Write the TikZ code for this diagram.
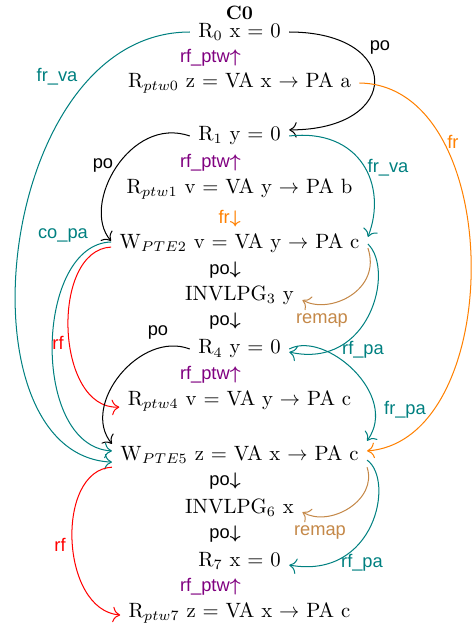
\documentclass[tikz,border=0pt]{standalone}
\usepackage{amsmath}
\usepackage{fontspec}
\newfontfamily\labfont{Liberation Sans}
\usetikzlibrary{arrows.meta}
\definecolor{mypurple}{RGB}{128,0,128}
\definecolor{mybrown}{RGB}{196,136,72}
\definecolor{myteal}{RGB}{0,128,128}
\definecolor{myorange}{RGB}{255,128,0}
\definecolor{myred}{RGB}{255,0,0}
\newcommand{\upar}{\ensuremath{\boldsymbol{\uparrow}}}
\newcommand{\dnar}{\ensuremath{\boldsymbol{\downarrow}}}
\begin{document}
\begin{tikzpicture}[x=0.4926pt,y=-0.4926pt,
  txt/.style={inner sep=4pt, font=\fontsize{10.2}{12}\selectfont},
  lab/.style={inner sep=1pt, font=\labfont\fontsize{9}{10}\selectfont},
  vlab/.style={lab, anchor=east},
  rel/.style={line width=0.5pt, -{To[scale=1.35]}},
  pocol/.style={rel, black},
  tealc/.style={rel, myteal},
  redc/.style={rel, myred},
  orc/.style={rel, myorange},
  brc/.style={rel, mybrown}]
\useasboundingbox (0,0) rectangle (474,628);

% title and event nodes
\node[inner sep=1pt, font=\fontsize{9.5}{11}\selectfont\bfseries] (C0) at (239.5,13) {C0};
\node[txt] (R0)  at (239.5,32)  {R$_0$ x = 0};
\node[txt] (Rp0) at (239.5,83)  {R$_{ptw0}$ z = VA x $\rightarrow$ PA a};
\node[txt] (R1)  at (239.5,136) {R$_1$ y = 0};
\node[txt] (Rp1) at (239.5,189) {R$_{ptw1}$ v = VA y $\rightarrow$ PA b};
\node[txt] (W2)  at (239.5,243) {W$_{PTE2}$ v = VA y $\rightarrow$ PA c};
\node[txt] (I3)  at (239.5,295) {INVLPG$_3$ y};
\node[txt] (R4)  at (239.5,349) {R$_4$ y = 0};
\node[txt] (Rp4) at (239.5,401) {R$_{ptw4}$ v = VA y $\rightarrow$ PA c};
\node[txt] (W5)  at (239.5,455) {W$_{PTE5}$ z = VA x $\rightarrow$ PA c};
\node[txt] (I6)  at (239.5,508) {INVLPG$_6$ x};
\node[txt] (R7)  at (239.5,561) {R$_7$ x = 0};
\node[txt] (Rp7) at (239.5,613) {R$_{ptw7}$ z = VA x $\rightarrow$ PA c};

% vertical relation labels
\node[vlab, mypurple] (v1) at (243,58)  {rf\_ptw\upar};
\node[vlab, mypurple] (v2) at (243,163) {rf\_ptw\upar};
\node[vlab, myorange] (v3) at (243,219) {fr\dnar};
\node[vlab, black]    (v4) at (243,270) {po\dnar};
\node[vlab, black]    (v5) at (243,321) {po\dnar};
\node[vlab, mypurple] (v6) at (243,375) {rf\_ptw\upar};
\node[vlab, black]    (v7) at (243,481) {po\dnar};
\node[vlab, black]    (v8) at (243,534) {po\dnar};
\node[vlab, mypurple] (v9) at (243,587) {rf\_ptw\upar};

% connectors
\draw[pocol] (R0.east) .. controls (403,32) and (403,130) .. ([yshift=3pt]R1.east);
\draw[tealc] (R0.west) .. controls (-5,32) and (-45,455) .. ([yshift=-3.5pt]W5.west);
\draw[tealc] ([yshift=0.5pt]W2.west) .. controls (35,244) and (30,446) .. ([yshift=2pt]W5.west);
\draw[redc] ([yshift=-2pt]W2.west) .. controls (50,250) and (55,410) .. ([yshift=-3pt]Rp4.west);
\draw[pocol] (R1.west) .. controls (130,115) and (80,205) .. ([yshift=1pt]W2.west);
\draw[tealc] (R1.east) .. controls (360,128) and (388,185) .. ([yshift=3pt]W2.east);
\draw[orc] (Rp0.east) .. controls (507,85) and (507,440) .. ([yshift=2pt]W5.east);
\draw[brc] ([yshift=-2.5pt]W2.east) .. controls (382,290) and (330,315) .. ([yshift=-2.5pt]I3.east);
\draw[tealc] ([yshift=-0.5pt]W2.east) .. controls (395,270) and (370,370) .. ([yshift=-1.5pt]R4.east);
\draw[tealc] (R4.east) .. controls (325,330) and (400,395) .. ([yshift=7pt]W5.east);
\draw[pocol] (R4.west) .. controls (140,330) and (80,405) .. ([yshift=5.5pt]W5.west);
\draw[redc] ([yshift=-6pt]W5.west) .. controls (55,470) and (60,610) .. ([yshift=-1pt]Rp7.west);
\draw[brc] ([yshift=-6pt]W5.east) .. controls (378,500) and (330,528) .. ([yshift=-2pt]I6.east);
\draw[tealc] ([yshift=-2.5pt]W5.east) .. controls (395,480) and (375,580) .. ([yshift=-2pt]R7.east);

% connector labels
\node[lab, black]     (e1)  at (380,47)  {po};
\node[lab, myteal]    (e2)  at (57,77)   {fr\_va};
\node[lab, myorange]  (e3)  at (453,142) {fr};
\node[lab, black]     (e4)  at (103,165) {po};
\node[lab, myteal]    (e5)  at (388,168) {fr\_va};
\node[lab, myteal]    (e6)  at (63,235)  {co\_pa};
\node[lab, myred]     (e7)  at (58,343)  {rf};
\node[lab, mybrown]   (e8)  at (322,320) {remap};
\node[lab, black]     (e9)  at (158,332) {po};
\node[lab, myteal]    (e10) at (363,350) {rf\_pa};
\node[lab, myteal]    (e11) at (405,410) {fr\_pa};
\node[lab, myred]     (e12) at (60,545)  {rf};
\node[lab, mybrown]   (e13) at (320,532) {remap};
\node[lab, myteal]    (e14) at (362,563) {rf\_pa};
\end{tikzpicture}
\end{document}
